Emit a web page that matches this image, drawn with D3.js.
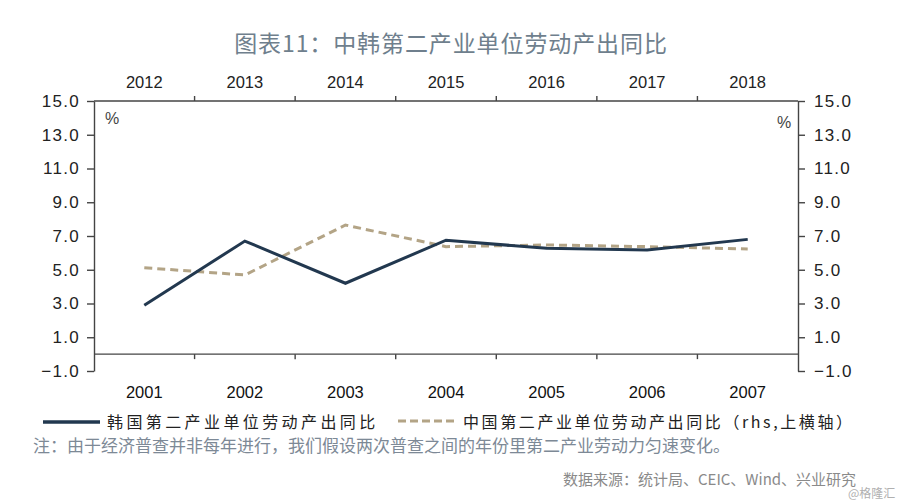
<!DOCTYPE html>
<html><head><meta charset="utf-8">
<script src="https://cdn.jsdelivr.net/npm/d3@7"></script>
<style>
html,body{margin:0;padding:0;background:#fff;}
svg{display:block;}
text{font-family:"Liberation Sans",Arial,sans-serif;}
.cjk{font-family:"Noto Sans CJK SC","Noto Sans",sans-serif;}
</style></head><body>
<svg id="c" width="900" height="503"></svg>
<script>
const koreaYears = ["2001","2002","2003","2004","2005","2006","2007"];
const chinaYears = ["2012","2013","2014","2015","2016","2017","2018"];
const koreaValues = [2.9, 6.7, 4.2, 6.75, 6.27, 6.17, 6.8];
const chinaValues = [5.12, 4.69, 7.65, 6.37, 6.47, 6.37, 6.23];
const yTicks = [-1, 1, 3, 5, 7, 9, 11, 13, 15];
const titleText = "图表11：中韩第二产业单位劳动产出同比";
const legendKorea = "韩国第二产业单位劳动产出同比";
const legendChina = "中国第二产业单位劳动产出同比（rhs,上横轴）";
const noteText = "注：由于经济普查并非每年进行，我们假设两次普查之间的年份里第二产业劳动力匀速变化。";
const sourceText = "数据来源：统计局、CEIC、Wind、兴业研究";
const watermark = "@格隆汇";

const svg = d3.select("#c");
const L = 94, R = 798, T = 101, B = 371;
const axisColor = "#444";
const korColor = "#22384f", chnColor = "#b3a486";

const y = d3.scaleLinear().domain([-1, 15]).range([B, T]);
const xBot = d3.scaleBand().domain(koreaYears).range([L, R]);
const xTop = d3.scaleBand().domain(chinaYears).range([L, R]);

// title
svg.append("text").attr("class","cjk").attr("x",451).attr("y",52)
  .attr("text-anchor","middle").attr("font-size",23).attr("font-weight",400)
  .attr("letter-spacing",0.9).attr("fill","#6f7f8d").text(titleText);

// left axis
const la = svg.append("g").attr("transform",`translate(${L},0)`)
  .call(d3.axisLeft(y).tickValues(yTicks).tickSize(7).tickSizeOuter(0).tickPadding(7).tickFormat(d3.format(".1f")));
// right axis
const ra = svg.append("g").attr("transform",`translate(${R},0)`)
  .call(d3.axisRight(y).tickValues(yTicks).tickSize(7).tickSizeOuter(0).tickPadding(9).tickFormat(d3.format(".1f")));
[la, ra].forEach(g => {
  g.selectAll("path, line").attr("stroke", axisColor).attr("stroke-width",1.4);
  g.selectAll("text").attr("font-size",17).attr("fill","#222").attr("letter-spacing",1.3)
    .text(d => d3.format(".1f")(d).replace("-", "−"));
});

// top axis (China years)
const boundsTop = xTop.domain().slice(1).map(d => xTop(d));
svg.append("line").attr("x1",L).attr("x2",R).attr("y1",y(15)).attr("y2",y(15))
  .attr("stroke",axisColor).attr("stroke-width",1.4);
svg.selectAll(".tt").data(boundsTop).enter().append("line")
  .attr("x1",d=>d).attr("x2",d=>d).attr("y1",y(15)).attr("y2",y(15)-5)
  .attr("stroke",axisColor).attr("stroke-width",1.4);
svg.selectAll(".tl").data(chinaYears).enter().append("text")
  .attr("x",d=>xTop(d)+xTop.bandwidth()/2).attr("y",88)
  .attr("text-anchor","middle").attr("font-size",16.5).attr("fill","#222").text(d=>d);

// bottom axis at y=0 (Korea years)
const boundsBot = xBot.domain().slice(1).map(d => xBot(d));
svg.append("line").attr("x1",L).attr("x2",R).attr("y1",y(0)).attr("y2",y(0))
  .attr("stroke",axisColor).attr("stroke-width",1.4);
svg.selectAll(".bt").data(boundsBot).enter().append("line")
  .attr("x1",d=>d).attr("x2",d=>d).attr("y1",y(0)).attr("y2",y(0)+5)
  .attr("stroke",axisColor).attr("stroke-width",1.4);
svg.selectAll(".bl").data(koreaYears).enter().append("text")
  .attr("x",d=>xBot(d)+xBot.bandwidth()/2).attr("y",398)
  .attr("text-anchor","middle").attr("font-size",16.5).attr("fill","#111").text(d=>d);

// % labels
svg.append("text").attr("x",105).attr("y",124).attr("font-size",16).attr("fill","#444").text("%");
svg.append("text").attr("x",777).attr("y",128).attr("font-size",16).attr("fill","#444").text("%");

// lines
const lineK = d3.line().x((d,i)=>xBot(koreaYears[i])+xBot.bandwidth()/2).y(d=>y(d));
const lineC = d3.line().x((d,i)=>xTop(chinaYears[i])+xTop.bandwidth()/2).y(d=>y(d));
svg.append("path").datum(chinaValues).attr("d",lineC).attr("fill","none")
  .attr("stroke",chnColor).attr("stroke-width",3).attr("stroke-dasharray","8,5");
svg.append("path").datum(koreaValues).attr("d",lineK).attr("fill","none")
  .attr("stroke",korColor).attr("stroke-width",3);

// legend
svg.append("line").attr("x1",43).attr("x2",100).attr("y1",422).attr("y2",422)
  .attr("stroke",korColor).attr("stroke-width",3.5);
svg.append("text").attr("class","cjk").attr("x",107).attr("y",428).attr("font-size",16)
  .attr("letter-spacing",3.4).attr("fill","#222").text(legendKorea);
svg.append("line").attr("x1",398).attr("x2",455).attr("y1",421).attr("y2",421)
  .attr("stroke",chnColor).attr("stroke-width",3).attr("stroke-dasharray","8,4");
svg.append("text").attr("class","cjk").attr("x",463).attr("y",428).attr("font-size",16)
  .attr("letter-spacing",2.6).attr("fill","#222").text(legendChina);

// note
svg.append("text").attr("class","cjk").attr("x",33).attr("y",452).attr("font-size",17)
  .attr("fill","#7d8996").text(noteText);

// source
svg.append("text").attr("class","cjk").attr("x",563).attr("y",485).attr("font-size",15)
  .attr("fill","#8a8a8a").text(sourceText);
svg.append("text").attr("class","cjk").attr("x",848).attr("y",498).attr("font-size",12)
  .attr("fill","#b0b0b0").text(watermark);
</script>
</body></html>
